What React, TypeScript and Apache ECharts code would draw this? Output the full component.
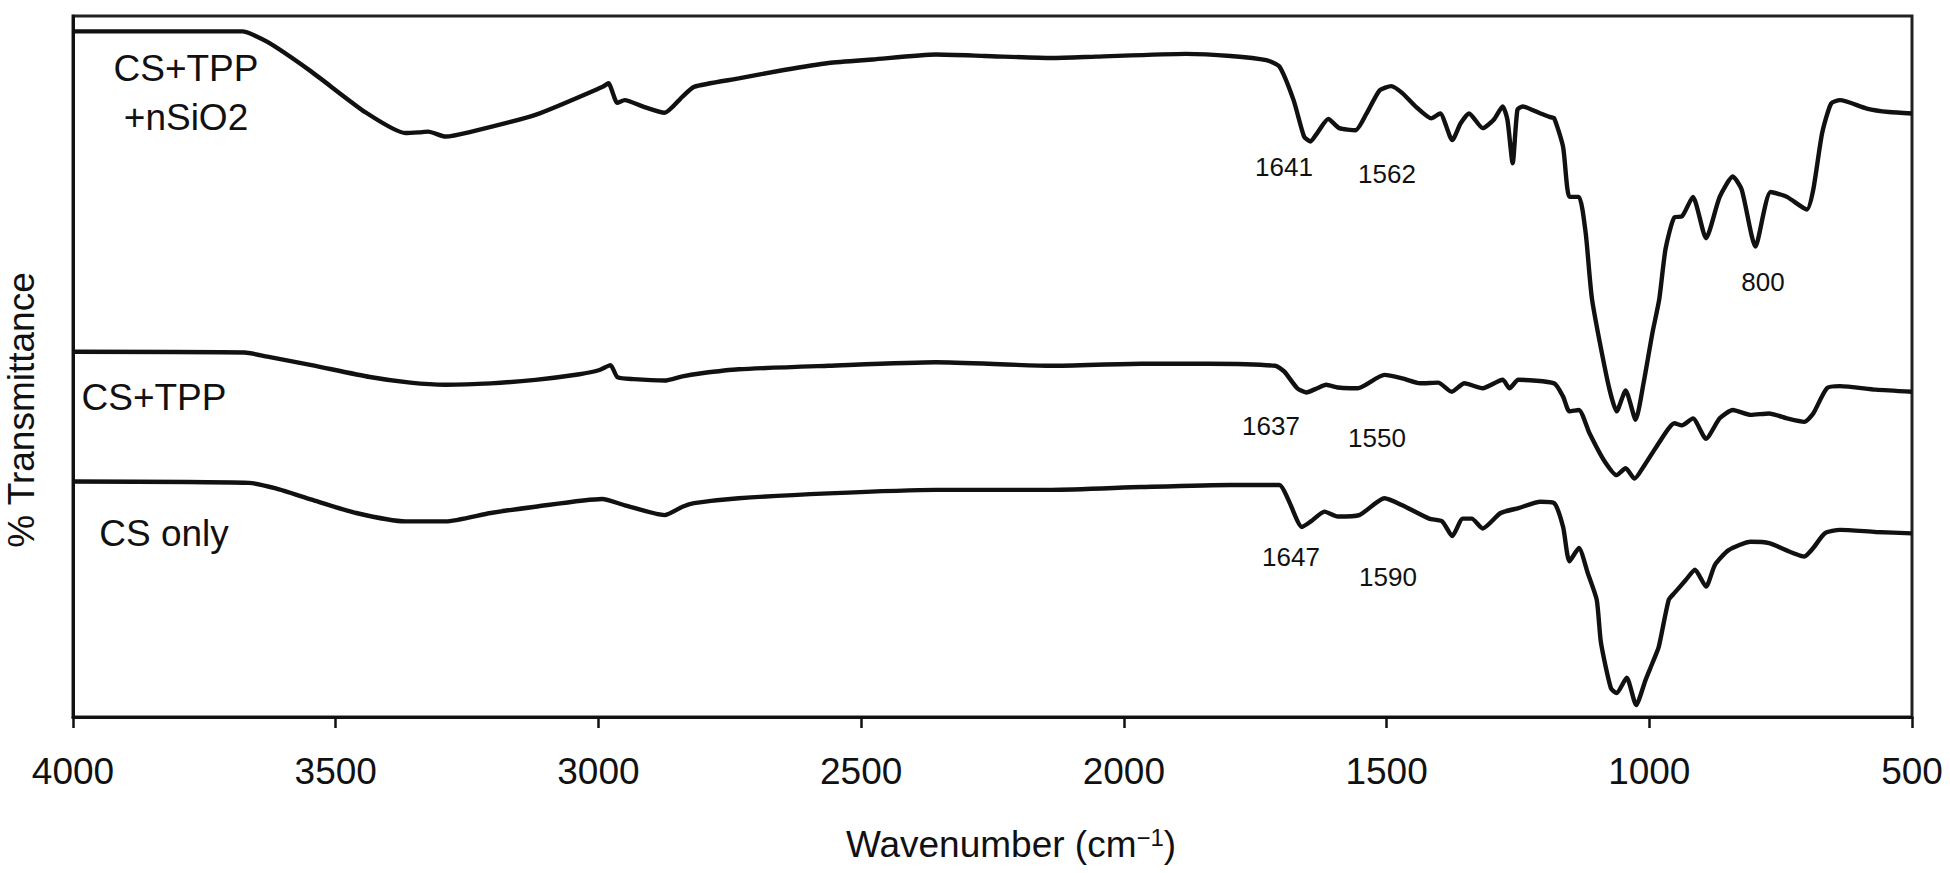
import React, { useEffect, useRef } from "react";
import * as echarts from "echarts";

// Wavenumber (cm-1) axis ticks
const xTicks = [4000, 3500, 3000, 2500, 2000, 1500, 1000, 500];

// CS+TPP+nSiO2 (top trace), arbitrary % transmittance with offset
const nsWn = [4000, 3855, 3678, 3630, 3547, 3444, 3367, 3341, 3324, 3291, 3247, 3120, 2992, 2981, 2964, 2950, 2916, 2874, 2840, 2818, 2733, 2647, 2562, 2478, 2358, 2264, 2137, 2053, 1882, 1797, 1729, 1704, 1677, 1657, 1645, 1632, 1611, 1590, 1559, 1538, 1513, 1491, 1470, 1445, 1415, 1398, 1375, 1359, 1343, 1317, 1296, 1279, 1270, 1260, 1251, 1241, 1207, 1190, 1181, 1164, 1152, 1134, 1121, 1109, 1079, 1062, 1045, 1026, 1011, 994, 981, 969, 952, 938, 917, 892, 866, 841, 824, 798, 769, 738, 700, 688, 671, 654, 637, 586, 544, 500];
const nsT = [97.8, 97.8, 97.8, 96.3, 92.1, 86.3, 83.3, 83.4, 83.5, 82.8, 83.4, 85.9, 89.9, 90.4, 87.6, 88.0, 87.1, 86.2, 88.5, 89.9, 91.1, 92.3, 93.3, 93.8, 94.5, 94.3, 94.0, 94.2, 94.6, 94.3, 93.7, 92.8, 88.0, 82.8, 82.1, 83.3, 85.3, 84.0, 83.7, 86.1, 89.4, 90.0, 89.0, 87.1, 85.4, 86.1, 82.3, 84.7, 86.1, 84.0, 85.2, 87.1, 85.2, 79.0, 86.6, 87.1, 86.1, 85.6, 85.4, 81.3, 74.2, 74.2, 69.0, 59.6, 47.8, 43.6, 46.6, 42.4, 47.6, 54.8, 59.6, 66.8, 71.3, 71.4, 74.2, 68.3, 74.2, 77.1, 75.2, 67.1, 74.9, 74.2, 72.4, 75.2, 83.3, 87.5, 88.0, 86.8, 86.3, 86.1];

// CS+TPP (middle trace)
const tppWn = [4000, 3673, 3630, 3546, 3435, 3358, 3291, 3205, 3120, 3036, 2998, 2977, 2964, 2933, 2874, 2840, 2807, 2733, 2562, 2358, 2137, 1967, 1839, 1712, 1695, 1670, 1653, 1632, 1615, 1593, 1569, 1555, 1504, 1470, 1436, 1402, 1376, 1352, 1317, 1279, 1266, 1249, 1181, 1164, 1152, 1134, 1114, 1087, 1062, 1045, 1028, 1011, 986, 952, 938, 917, 892, 866, 841, 807, 772, 738, 705, 688, 662, 637, 569, 500];
const tppT = [52.1, 52.0, 51.4, 50.2, 48.5, 47.7, 47.4, 47.6, 48.1, 48.9, 49.5, 50.2, 48.5, 48.2, 48.0, 48.6, 49.0, 49.6, 50.1, 50.6, 50.1, 50.4, 50.4, 50.1, 49.3, 46.9, 46.3, 46.9, 47.4, 47.0, 46.9, 46.9, 48.8, 48.3, 47.6, 47.7, 46.4, 47.6, 46.9, 48.1, 46.9, 48.1, 47.6, 45.7, 43.6, 43.8, 40.5, 36.7, 34.5, 35.5, 34.0, 35.7, 38.6, 41.9, 41.6, 42.6, 39.7, 42.6, 43.8, 43.1, 43.3, 42.6, 42.1, 43.3, 46.9, 47.2, 46.7, 46.4];

// CS only (bottom trace)
const csWn = [4000, 3665, 3614, 3546, 3461, 3367, 3291, 3205, 3120, 2993, 2950, 2874, 2840, 2818, 2733, 2562, 2358, 2137, 1967, 1797, 1704, 1687, 1661, 1644, 1618, 1593, 1552, 1504, 1470, 1419, 1394, 1375, 1355, 1338, 1317, 1283, 1249, 1207, 1181, 1164, 1152, 1134, 1117, 1100, 1092, 1073, 1062, 1043, 1025, 1007, 994, 982, 963, 952, 931, 913, 892, 875, 849, 807, 772, 705, 688, 666, 637, 569, 500];
const csT = [33.6, 33.4, 32.6, 31.0, 29.1, 27.9, 27.9, 29.1, 30.0, 31.1, 30.2, 28.8, 30.0, 30.5, 31.2, 31.9, 32.4, 32.4, 32.8, 33.1, 33.1, 31.0, 27.1, 27.9, 29.3, 28.6, 28.8, 31.2, 30.2, 28.3, 27.9, 25.8, 28.3, 28.3, 26.9, 29.1, 29.8, 30.7, 30.5, 27.1, 22.2, 24.1, 20.5, 16.7, 10.6, 4.1, 3.4, 5.6, 1.7, 5.3, 7.7, 10.0, 16.7, 17.7, 19.5, 21.0, 18.6, 21.7, 23.8, 25.0, 24.8, 22.9, 24.1, 26.2, 26.7, 26.4, 26.2];

const seriesNames = ["CS+TPP+nSiO2", "CS+TPP", "CS only"];
const peakLabels = ["1641", "1562", "800", "1637", "1550", "1647", "1590"];

const FONT = "'Liberation Sans', Arial, Helvetica, sans-serif";

export default function App() {
  const ref = useRef<HTMLDivElement>(null);
  useEffect(() => {
    if (!ref.current) return;
    const chart = echarts.init(ref.current, undefined, { renderer: "svg" });
    const zip = (w: number[], t: number[]) => w.map((x, i) => [x, t[i]]);
    const line = (name: string, data: number[][]) => ({
      type: "line",
      name,
      data,
      symbol: "none",
      showSymbol: false,
      smooth: 0.2,
      silent: true,
      lineStyle: { color: "#111", width: 4.4 },
    });
    const txt = (text: string, x: number, y: number, size: number, extra: any = {}) => ({
      type: "text",
      x,
      y,
      silent: true,
      ...extra,
      style: {
        text,
        fill: "#111",
        fontSize: size,
        fontFamily: FONT,
        align: "center",
        verticalAlign: "middle",
        ...(extra.style || {}),
      },
    });
    const peakPos = [
      [1284, 167],
      [1387, 174],
      [1763, 282],
      [1271, 426],
      [1377, 438],
      [1291, 557],
      [1388, 577],
    ];
    chart.setOption({
      animation: false,
      backgroundColor: "#ffffff",
      grid: {
        left: 73,
        right: 38,
        top: 16,
        bottom: 156,
        show: true,
        borderColor: "#222",
        borderWidth: 3,
      },
      xAxis: {
        type: "value",
        min: 500,
        max: 4000,
        interval: 500,
        inverse: true,
        axisLine: { show: true, onZero: false, lineStyle: { color: "#111", width: 3 } },
        axisTick: { show: true, length: 11, lineStyle: { color: "#111", width: 2.5 } },
        axisLabel: {
          fontSize: 37,
          color: "#111",
          fontFamily: FONT,
          margin: 36,
          formatter: (v: number) => (xTicks.includes(v) ? String(v) : ""),
        },
        splitLine: { show: false },
      },
      yAxis: {
        type: "value",
        min: 0,
        max: 100,
        axisLine: { show: true, lineStyle: { color: "#111", width: 3 } },
        axisTick: { show: false },
        axisLabel: { show: false },
        splitLine: { show: false },
      },
      series: [
        line(seriesNames[0], zip(nsWn, nsT)),
        line(seriesNames[1], zip(tppWn, tppT)),
        line(seriesNames[2], zip(csWn, csT)),
      ],
      graphic: [
        txt("CS+TPP\n+nSiO2", 186, 93, 37, { style: { lineHeight: 49 } }),
        txt("CS+TPP", 154, 397, 37),
        txt("CS only", 164, 533, 37),
        ...peakLabels.map((p, i) => txt(p, peakPos[i][0], peakPos[i][1], 26)),
        txt("% Transmittance", 21, 410, 37, { rotation: Math.PI / 2 }),
        txt("Wavenumber (cm{sup|\u22121})", 1011, 844, 37, {
          style: {
            rich: {
              sup: {
                fontSize: 24,
                fontFamily: FONT,
                fill: "#111",
                verticalAlign: "top",
                lineHeight: 12,
              },
            },
          },
        }),
      ],
    });
    return () => chart.dispose();
  }, []);
  return (
    <div
      ref={ref}
      style={{ position: "fixed", left: 0, top: 0, width: 1950, height: 873, background: "#fff" }}
    />
  );
}
